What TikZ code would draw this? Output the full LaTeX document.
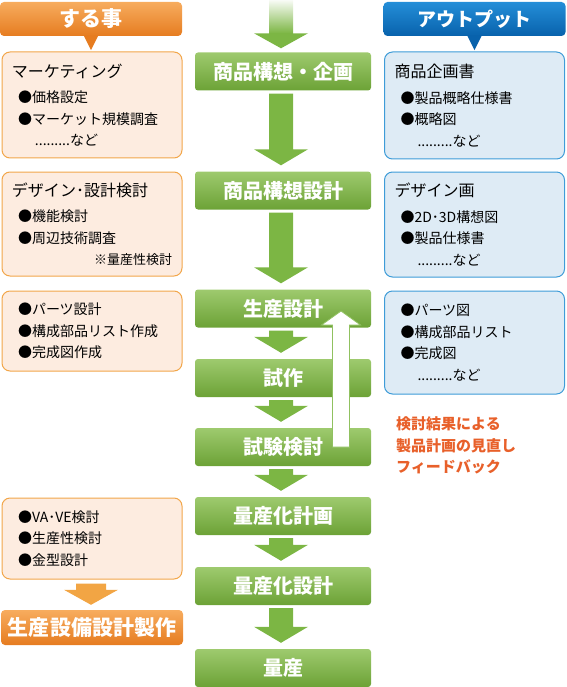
\documentclass[tikz,border=0pt]{standalone}
\usepackage{fontspec}
\setmainfont{Noto Sans CJK JP}
\usetikzlibrary{calc}
\tikzset{>=latex}
\definecolor{flowgreen}{RGB}{124,182,68}
\definecolor{greentop}{RGB}{158,202,110}
\definecolor{greenbot}{RGB}{108,162,54}
\definecolor{orangetop}{RGB}{247,172,94}
\definecolor{orangebot}{RGB}{230,124,32}
\definecolor{orangearrow}{RGB}{242,165,68}
\definecolor{peach}{RGB}{253,236,224}
\definecolor{peachline}{RGB}{242,166,74}
\definecolor{bluetop}{RGB}{36,142,216}
\definecolor{bluebot}{RGB}{8,98,172}
\definecolor{paleblue}{RGB}{222,235,245}
\definecolor{blueline}{RGB}{62,156,216}
\definecolor{feedred}{RGB}{232,96,42}
\colorlet{fbline}{flowgreen!85}
\def\shafthalf{12}
\def\headhalf{27}
\def\headlen{16}
\newcommand{\blockarrow}[3][flowgreen]{%colour,from,to
  \fill[#1] ($(#2.south)+(-\shafthalf-2,3)$) -- ($(#2.south)+(\shafthalf-2,3)$)
    -- ($(#3.north)+(\shafthalf-2,-\headlen-6)$) -- ($(#3.north)+(\headhalf-2,-\headlen-6)$)
    -- ($(#3.north)+(-2,-6)$)
    -- ($(#3.north)+(-\headhalf-2,-\headlen-6)$) -- ($(#3.north)+(-\shafthalf-2,-\headlen-6)$) -- cycle;
}
\newcommand{\bul}{\hspace*{6pt}●}
\newcommand{\etc}{\hspace*{23pt}.........など}
\newcommand{\boxtitle}[1]{{\fontsize{16}{16}\selectfont #1}\\[4pt]}

\begin{document}
\begin{tikzpicture}[x=1pt,y=-1pt,
  stepbox/.style={rectangle,rounded corners=3pt,top color=greentop,bottom color=greenbot,
    minimum width=176pt,minimum height=38pt,inner sep=0pt,text=white,
    font=\bfseries\fontsize{20}{20}\selectfont},
  headbox/.style={rectangle,rounded corners=4pt,minimum width=182pt,minimum height=34pt,
    inner sep=0pt,text=white,font=\bfseries\fontsize{21}{21}\selectfont},
  todobox/.style={rectangle,rounded corners=8pt,draw=peachline,line width=1pt,fill=peach,
    text width=160pt,inner xsep=10pt,inner ysep=0pt,align=left,
    font=\fontsize{14}{21.5}\selectfont},
  outbox/.style={todobox,draw=blueline,fill=paleblue},
  fbarrow/.style={fill=white,draw=fbline,line width=0.8pt},
]
\useasboundingbox (0,0) rectangle (566,687);

%% headers
\node[headbox,top color=orangetop,bottom color=orangebot] (dohead) at (91,19) {する事};
\node[headbox,top color=bluetop,bottom color=bluebot,font=\bfseries\fontsize{19}{19}\selectfont] (outhead) at (474.5,19) {アウトプット};
\fill[orangebot] ($(dohead.south)+(-7.5,-1)$) -- ($(dohead.south)+(7.5,-1)$) -- ($(dohead.south)+(0,14)$) -- cycle;
\fill[bluebot] ($(outhead.south)+(-7.5,-1)$) -- ($(outhead.south)+(7.5,-1)$) -- ($(outhead.south)+(0,14)$) -- cycle;

%% process steps
\foreach \name/\y/\txt in {plan/71.5/商品構想・企画, concept/190.5/商品構想設計, design/308.5/生産設計,
    proto/378/試作, test/447/試験検討, mpplan/516/量産化計画, mpdesign/586/量産化設計, mass/668/量産}
  \node[stepbox] (\name) at (283,\y) {\txt};

%% entry arrow
\coordinate (entry) at (281,0);
\shade[top color=flowgreen!5,bottom color=flowgreen] ($(entry)+(-12,0)$) rectangle ($(plan.north)+(10,-19)$);
\fill[flowgreen] ($(plan.north)+(-29,-19)$) -- ($(plan.north)+(25,-19)$) -- ($(plan.north)+(-2,-4)$) -- cycle;

\foreach \a/\b in {plan/concept, concept/design, design/proto, proto/test, test/mpplan, mpplan/mpdesign, mpdesign/mass}
  \blockarrow{\a}{\b};

%% what to do
\node[todobox,minimum height=106pt] (todo1) at (92,105) {\boxtitle{マーケティング}
  \bul 価格設定\\
  \bul マーケット規模調査\\
  \etc};
\node[todobox,minimum height=104pt] (todo2) at (92,224) {\boxtitle{デザイン･設計検討}
  \bul 機能検討\\
  \bul 周辺技術調査\\
  \mbox{}\hfill{\fontsize{13}{13}\selectfont ※量産性検討}};
\node[todobox,minimum height=80pt] (todo3) at (92,331) {\bul パーツ設計\\
  \bul 構成部品リスト作成\\
  \bul 完成図作成};
\node[todobox,minimum height=81pt] (todo4) at (92,538.5) {\bul VA･VE検討\\
  \bul 生産性検討\\
  \bul 金型設計};
\node[headbox,minimum height=35pt,top color=orangetop,bottom color=orangebot] (facil) at (92,627.5) {生産設備設計製作};
\fill[orangearrow] ($(todo4.south)+(-16,4)$) -- ($(todo4.south)+(14,4)$) -- ($(facil.north)+(14,-20)$)
  -- ($(facil.north)+(26,-20)$) -- ($(facil.north)+(-1,-5)$) -- ($(facil.north)+(-28,-20)$)
  -- ($(facil.north)+(-16,-20)$) -- cycle;

%% outputs
\node[outbox,minimum height=107pt] (out1) at (474.5,105.5) {\boxtitle{商品企画書}
  \bul 製品概略仕様書\\
  \bul 概略図\\
  \etc};
\node[outbox,minimum height=105pt] (out2) at (474.5,224.5) {\boxtitle{デザイン画}
  \bul 2D･3D構想図\\
  \bul 製品仕様書\\
  \etc};
\node[outbox,minimum height=103pt] (out3) at (474.5,342.5) {\bul パーツ図\\
  \bul 構成部品リスト\\
  \bul 完成図\\
  \etc};

%% feedback
\coordinate (fbtail) at ($(test.center)+(58,0)$);
\coordinate (fbtip) at ($(design.center)+(58,2.5)$);
\draw[fbarrow] ($(fbtail)+(-8.5,0)$) -- ($(fbtip)+(-8.5,14)$) -- ($(fbtip)+(-19.5,14)$) -- (fbtip)
  -- ($(fbtip)+(19.5,14)$) -- ($(fbtip)+(8.5,14)$) -- ($(fbtail)+(8.5,0)$) -- cycle;
\node[anchor=west,inner sep=0pt,align=left,text=feedred,font=\bfseries\fontsize{15}{21.5}\selectfont]
  (fbnote) at (396,445.5) {検討結果による\\製品計画の見直し\\フィードバック};
\end{tikzpicture}
\end{document}
